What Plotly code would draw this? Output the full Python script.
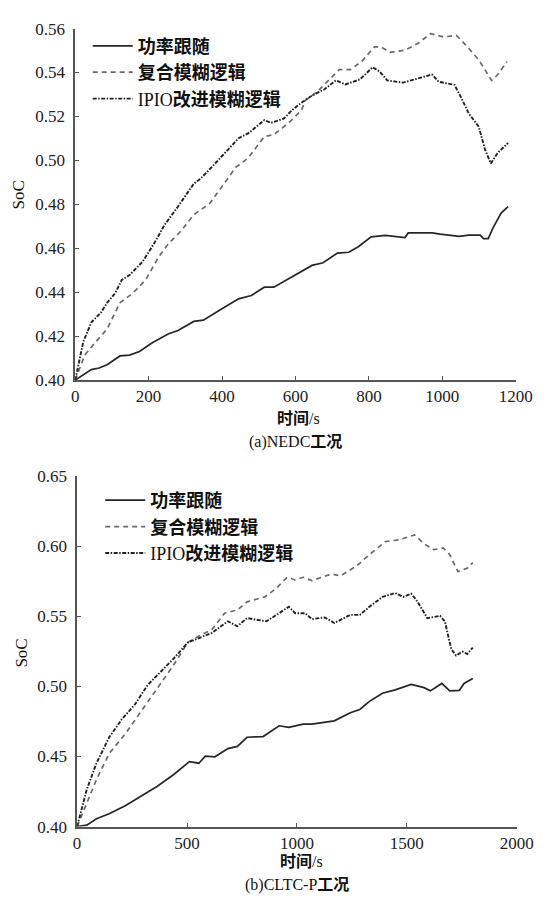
import plotly.graph_objects as go

# ---------------- data: (a) NEDC ----------------
a_pf_t = [0, 44, 65, 87, 122, 148, 175, 210, 253, 280, 323, 349, 402, 445, 480, 515, 541, 576, 616, 645, 675, 714, 745, 771, 806, 845, 898, 907, 972, 994, 1046, 1072, 1103, 1112, 1125, 1138, 1160, 1179]
a_pf_v = [0.400, 0.4048, 0.4055, 0.407, 0.411, 0.4114, 0.413, 0.417, 0.421, 0.4226, 0.4267, 0.4273, 0.4327, 0.437, 0.4385, 0.4423, 0.4423, 0.4456, 0.4497, 0.4522, 0.4534, 0.4578, 0.4582, 0.4607, 0.4652, 0.4659, 0.4649, 0.467, 0.467, 0.4664, 0.4654, 0.466, 0.466, 0.4644, 0.4644, 0.4693, 0.476, 0.479]

a_cf_t = [0, 26, 52, 87, 122, 157, 192, 227, 253, 288, 323, 367, 402, 437, 472, 515, 541, 585, 616, 627, 662, 697, 719, 749, 780, 815, 832, 859, 898, 933, 968, 1003, 1038, 1064, 1099, 1116, 1134, 1151, 1176]
a_cf_v = [0.400, 0.4114, 0.4166, 0.4233, 0.4352, 0.4396, 0.4456, 0.456, 0.4619, 0.4678, 0.4753, 0.4805, 0.4886, 0.4968, 0.5012, 0.5109, 0.5117, 0.5176, 0.5228, 0.5273, 0.5317, 0.5376, 0.5413, 0.5413, 0.545, 0.5517, 0.5517, 0.5492, 0.5502, 0.5532, 0.5577, 0.5562, 0.5569, 0.5525, 0.5458, 0.5413, 0.5364, 0.5391, 0.545]

a_ip_t = [0, 22, 44, 70, 87, 109, 127, 148, 183, 214, 244, 280, 323, 341, 375, 411, 445, 472, 515, 533, 568, 592, 618, 645, 679, 710, 736, 776, 810, 828, 850, 893, 933, 972, 990, 1033, 1051, 1072, 1099, 1116, 1132, 1151, 1179]
a_ip_v = [0.400, 0.4174, 0.4263, 0.4307, 0.4352, 0.4396, 0.4456, 0.4478, 0.4538, 0.4619, 0.4708, 0.479, 0.4894, 0.4916, 0.4975, 0.5042, 0.5101, 0.5124, 0.5183, 0.5171, 0.519, 0.5231, 0.5265, 0.5295, 0.5324, 0.5364, 0.5346, 0.5369, 0.5424, 0.5406, 0.5364, 0.5354, 0.5373, 0.5391, 0.5358, 0.5344, 0.5287, 0.5213, 0.5154, 0.505, 0.4986, 0.5035, 0.5079]

# ---------------- data: (b) CLTC-P ----------------
b_pf_t = [0, 44, 88, 146, 219, 292, 365, 438, 511, 554, 583, 627, 686, 729, 773, 846, 919, 963, 1028, 1068, 1126, 1170, 1243, 1286, 1330, 1389, 1447, 1520, 1578, 1607, 1659, 1695, 1739, 1760, 1800]
b_pf_v = [0.400, 0.401, 0.4056, 0.4091, 0.4149, 0.4219, 0.4288, 0.437, 0.4463, 0.4452, 0.4503, 0.4498, 0.4556, 0.4572, 0.4637, 0.4642, 0.4719, 0.4707, 0.4731, 0.4731, 0.4742, 0.4754, 0.4812, 0.4835, 0.4893, 0.4951, 0.4975, 0.5014, 0.4991, 0.4968, 0.5021, 0.4968, 0.4972, 0.5021, 0.5056]

b_cf_t = [0, 44, 88, 146, 219, 292, 365, 438, 503, 554, 613, 671, 729, 773, 853, 904, 955, 992, 1028, 1068, 1155, 1199, 1272, 1330, 1403, 1462, 1535, 1578, 1622, 1666, 1695, 1732, 1775, 1800]
b_cf_v = [0.400, 0.4172, 0.4335, 0.4521, 0.4661, 0.4824, 0.4986, 0.515, 0.5312, 0.5359, 0.5405, 0.5522, 0.5545, 0.5603, 0.5638, 0.5696, 0.5778, 0.5759, 0.5778, 0.5754, 0.5801, 0.5789, 0.5859, 0.594, 0.6033, 0.6045, 0.608, 0.6017, 0.5975, 0.5987, 0.594, 0.5819, 0.5843, 0.5883]

b_ip_t = [0, 44, 88, 146, 204, 263, 321, 379, 438, 503, 554, 613, 686, 729, 773, 861, 919, 963, 992, 1038, 1068, 1126, 1170, 1243, 1286, 1330, 1389, 1447, 1483, 1520, 1549, 1593, 1651, 1673, 1702, 1724, 1753, 1775, 1800]
b_ip_v = [0.400, 0.4265, 0.4452, 0.4637, 0.4766, 0.4871, 0.501, 0.5103, 0.5196, 0.5312, 0.5347, 0.5382, 0.5464, 0.5429, 0.5487, 0.5464, 0.5522, 0.5568, 0.5522, 0.5522, 0.548, 0.5492, 0.5452, 0.551, 0.551, 0.5568, 0.5638, 0.5666, 0.5638, 0.5661, 0.5603, 0.5487, 0.5503, 0.5464, 0.5266, 0.522, 0.5248, 0.5231, 0.5277]

names = ["功率跟随", "复合模糊逻辑", "IPIO改进模糊逻辑"]
legend_names = ["<b>功率跟随</b>", "<b>复合模糊逻辑</b>", "IPIO<b>改进模糊逻辑</b>"]

a_ticks_x = [0, 200, 400, 600, 800, 1000, 1200]
a_ticks_y = [0.40, 0.42, 0.44, 0.46, 0.48, 0.50, 0.52, 0.54, 0.56]
b_ticks_x = [0, 500, 1000, 1500, 2000]
b_ticks_y = [0.40, 0.45, 0.50, 0.55, 0.60, 0.65]

W, H = 553, 911
FONT = "Liberation Serif, Times New Roman, Noto Sans CJK SC, serif"

styles = [
    dict(color="#262626", width=1.7, dash="solid"),
    dict(color="#6a6a6a", width=1.7, dash="5px,4px"),
    dict(color="#222222", width=1.9, dash="4px,1.5px,1.5px,1.5px"),
]

fig = go.Figure()
a_series = [(a_pf_t, a_pf_v), (a_cf_t, a_cf_v), (a_ip_t, a_ip_v)]
b_series = [(b_pf_t, b_pf_v), (b_cf_t, b_cf_v), (b_ip_t, b_ip_v)]
for i, (t, v) in enumerate(a_series):
    fig.add_trace(go.Scatter(x=t, y=v, mode="lines", name=legend_names[i], line=styles[i],
                             xaxis="x", yaxis="y", legend="legend"))
for i, (t, v) in enumerate(b_series):
    fig.add_trace(go.Scatter(x=t, y=v, mode="lines", name=legend_names[i], line=styles[i],
                             xaxis="x2", yaxis="y2", legend="legend2"))

def px_x(p):
    return p / W

def px_y(p):
    return 1 - p / H

axis_common = dict(
    showgrid=False, zeroline=False, showline=True, linecolor="#555555", linewidth=1.5,
    ticks="inside", ticklen=4, tickcolor="#555555", tickwidth=1.2,
    tickfont=dict(family=FONT, size=17, color="#222222"),
)

fig.update_layout(
    width=W, height=H, margin=dict(l=0, r=0, t=0, b=0),
    paper_bgcolor="white", plot_bgcolor="white",
    font=dict(family=FONT, color="#111111"),
    xaxis=dict(domain=[px_x(74), px_x(532)], range=[0, 1200], tickvals=a_ticks_x,
               anchor="y", **axis_common),
    yaxis=dict(domain=[px_y(379), px_y(20)], range=[0.40, 0.56], tickvals=a_ticks_y,
               tickformat=".2f", anchor="x", ticklabelstandoff=5, **axis_common),
    xaxis2=dict(domain=[px_x(76), px_x(533)], range=[0, 2000], tickvals=b_ticks_x,
                anchor="y2", **axis_common),
    yaxis2=dict(domain=[px_y(835), px_y(477)], range=[0.40, 0.65], tickvals=b_ticks_y,
                tickformat=".2f", anchor="x2", ticklabelstandoff=5, **axis_common),
    legend=dict(x=px_x(87), y=px_y(19), xanchor="left", yanchor="top",
                bgcolor="rgba(0,0,0,0)", borderwidth=0, tracegroupgap=0,
                font=dict(family=FONT, size=18, color="#111111"), itemwidth=40),
    legend2=dict(x=px_x(100), y=px_y(483), xanchor="left", yanchor="top",
                 bgcolor="rgba(0,0,0,0)", borderwidth=0, tracegroupgap=0,
                 font=dict(family=FONT, size=18, color="#111111"), itemwidth=40),
    showlegend=True,
)

ann = [
    ("SoC", 15, 190, -90, 17),
    ("SoC", 18, 658, -90, 17),
    ("<b>时间</b>/s", 306, 418, 0, 16),
    ("(a)NEDC<b>工况</b>", 303, 442, 0, 16),
    ("<b>时间</b>/s", 309, 871, 0, 16),
    ("(b)CLTC-P<b>工况</b>", 305, 895, 0, 16),
]
for text, x, y, rot, size in ann:
    fig.add_annotation(text=text, x=px_x(x), y=px_y(y), xref="paper", yref="paper",
                       showarrow=False, textangle=rot, xanchor="center", yanchor="middle",
                       font=dict(family=FONT, size=size, color="#111111"))

fig.write_html("out.html")
